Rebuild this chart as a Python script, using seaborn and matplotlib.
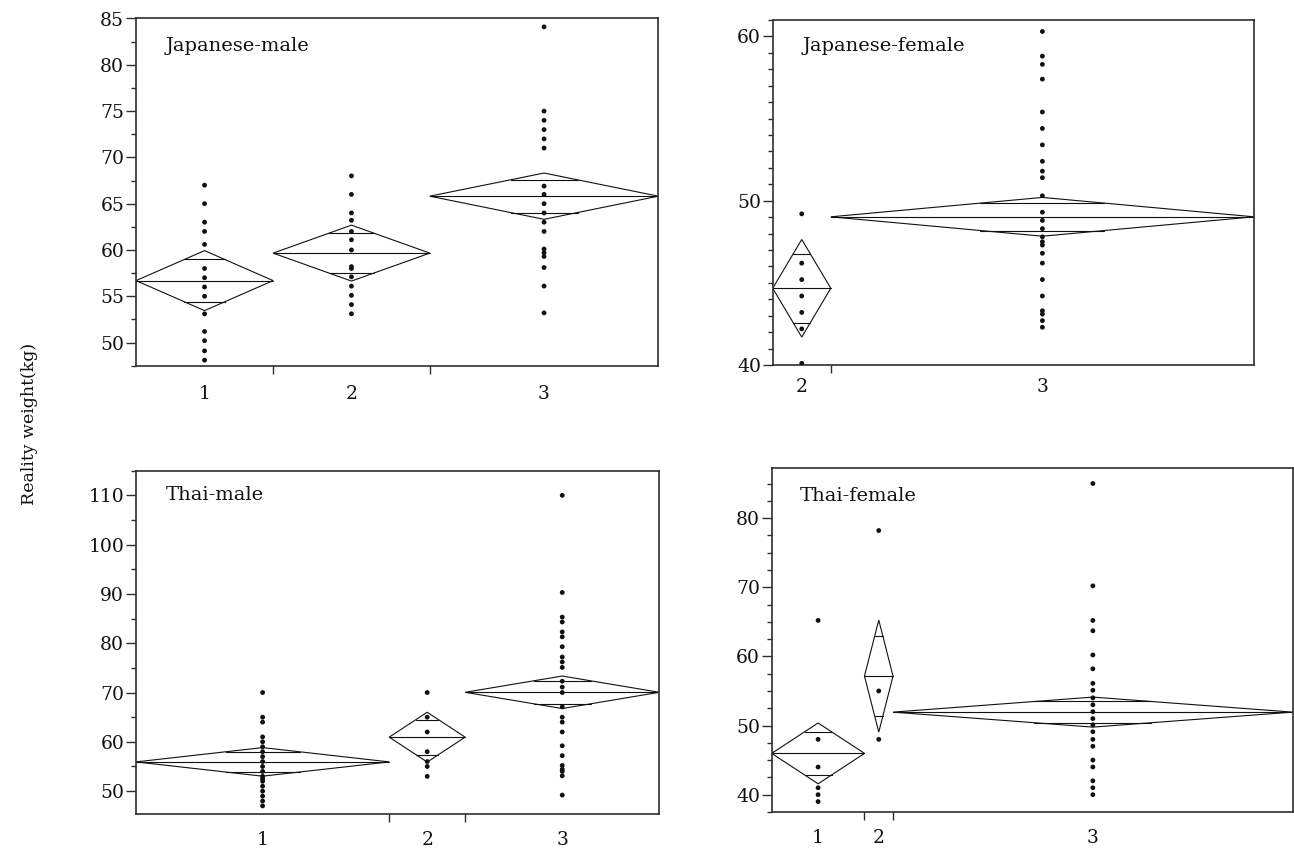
import numpy as np
import pandas as pd
import matplotlib
matplotlib.use("Agg")
import matplotlib.pyplot as plt
from matplotlib.patches import Polygon
from matplotlib.transforms import offset_copy
import seaborn as sns

# ---------------- data ----------------
# Japanese-male
jm_groups = ["1", "2", "3"]
jm_counts = [21, 24, 35]
jm_means = [56.69, 59.66, 65.81]
jm_ci = [3.24, 3.02, 2.50]
jm_g1 = [67, 65, 63, 62, 60.6, 58, 57, 56, 55, 53.1, 51.2, 50.2, 49.1, 48.1]
jm_g2 = [68, 66, 64, 63.2, 62, 61.1, 60, 58.2, 58, 57.1, 56.1, 55.1, 54.1, 53.1]
jm_g3 = [84.1, 75, 74, 73, 72, 71, 66.9, 66, 65, 64, 63, 62, 60.1, 59.7, 59.3,
         58.1, 56.1, 53.2]

# Japanese-female
jf_groups = ["2", "3"]
jf_counts = [7, 51]
jf_means = [44.67, 49.02]
jf_ci = [2.97, 1.18]
jf_g1 = [49.2, 46.2, 45.2, 44.2, 43.2, 42.2, 40.1]
jf_g2 = [60.3, 58.8, 58.3, 57.4, 55.4, 54.4, 53.4, 52.4, 51.8, 51.4, 50.3, 49.3,
         48.8, 48.3, 47.8, 47.5, 47.3, 46.8, 46.2, 45.2, 44.2, 43.3, 43.1, 42.7, 42.3]

# Thai-male
tm_groups = ["1", "2", "3"]
tm_counts = [30, 9, 23]
tm_means = [55.93, 60.95, 70.05]
tm_ci = [2.90, 5.05, 3.30]
tm_g1 = [70, 65, 64, 61, 60, 59, 58, 57, 56, 55, 54, 53, 52.5, 52, 51, 50, 49, 48, 47]
tm_g2 = [70, 65, 62, 58, 56, 55, 53]
tm_g3 = [110, 90.3, 85.3, 84.3, 82.3, 81.3, 79.3, 77.2, 76.2, 75.1, 72.3, 71.1, 70,
         67.1, 65, 64, 62, 59.2, 57.2, 55.2, 54.4, 54, 53.1, 49.2]

# Thai-female
tf_groups = ["1", "2", "3"]
tf_counts = [13, 4, 56]
tf_means = [45.97, 57.15, 51.94]
tf_ci = [4.40, 8.10, 2.17]
tf_g1 = [65.2, 48, 44, 41, 40, 39]
tf_g2 = [78.2, 55, 48]
tf_g3 = [85, 70.2, 65.2, 63.7, 60.2, 58.2, 56.1, 55.1, 54, 53, 52, 51, 50.1, 49.1,
         48, 47, 45, 44, 42, 41, 40]

y_label = "Reality weight(kg)"

# ---------------- style ----------------
sns.set_style("ticks")
plt.rcParams["font.family"] = ["DejaVu Serif"]
plt.rcParams["font.size"] = 13.5
plt.rcParams["text.color"] = "#111111"
plt.rcParams["xtick.labelcolor"] = "#111111"
plt.rcParams["ytick.labelcolor"] = "#111111"

W, H = 1294, 848
fig = plt.figure(figsize=(W / 100, H / 100), dpi=100)


def box(l, r, t, b):
    return [l / W, 1 - b / H, (r - l) / W, (b - t) / H]


SPINE = "#2e2e2e"


def draw_panel(rect, title, groups, counts, means, ci, points, ylim, major, minor,
               xpad, label_off):
    ax = fig.add_axes(rect)
    edges = np.concatenate([[0], np.cumsum(counts)])
    centers = (edges[:-1] + edges[1:]) / 2
    rows = []
    for c, pts in zip(centers, points):
        for v in pts:
            rows.append({"x": c, "w": v})
    df = pd.DataFrame(rows)
    sns.scatterplot(data=df, x="x", y="w", ax=ax, color="#111111", s=12,
                    edgecolor="none", legend=False, zorder=3)
    frac = 1 - 1 / np.sqrt(2)
    for i in range(len(counts)):
        x0, x1, xc = edges[i], edges[i + 1], centers[i]
        m, h = means[i], ci[i]
        ax.add_patch(Polygon([(x0, m), (xc, m + h), (x1, m), (xc, m - h)],
                             closed=True, fill=False, edgecolor="#111111",
                             lw=0.8, zorder=2))
        ax.plot([x0, x1], [m, m], color="#111111", lw=0.8, zorder=2)
        d = h / np.sqrt(2)
        hw = (x1 - x0) / 2 * frac
        for yy in (m + d, m - d):
            ax.plot([xc - hw, xc + hw], [yy, yy], color="#111111", lw=0.8, zorder=2)
    ax.set_xlim(0, edges[-1])
    ax.set_ylim(*ylim)
    ax.set_xlabel("")
    ax.set_ylabel("")
    ax.set_xticks(edges[1:-1])
    ax.set_xticklabels([""] * (len(edges) - 2))
    ax.set_xticks(centers, minor=True)
    ax.set_xticklabels(groups, minor=True)
    ax.tick_params(axis="x", which="major", length=6, width=1.0, color=SPINE,
                   direction="out")
    ax.tick_params(axis="x", which="minor", length=0, pad=xpad)
    ax.set_yticks(major)
    ax.set_yticks(minor, minor=True)
    ax.tick_params(axis="y", which="major", length=7, width=1.0, color=SPINE,
                   pad=1.5, direction="out")
    ax.tick_params(axis="y", which="minor", length=3.6, width=1.0, color=SPINE,
                   direction="out")
    for s in ax.spines.values():
        s.set_visible(True)
        s.set_color(SPINE)
        s.set_linewidth(1.2)
    tr = offset_copy(ax.transAxes, fig=fig, x=label_off[0], y=-label_off[1],
                     units="dots")
    ax.text(0, 1, title, transform=tr, ha="left", va="center", fontsize=14)
    return ax


draw_panel(box(136, 658.3, 18.5, 365.7), "Japanese-male", jm_groups, jm_counts,
           jm_means, jm_ci, [jm_g1, jm_g2, jm_g3], (47.5, 85.0),
           np.arange(50, 86, 5), np.arange(47.5, 85.1, 2.5), 14, (30, 28))

draw_panel(box(772.7, 1254, 20, 365), "Japanese-female", jf_groups, jf_counts,
           jf_means, jf_ci, [jf_g1, jf_g2], (40.0, 61.0),
           [40, 50, 60], np.arange(40, 61.1, 1), 9, (30, 26))

draw_panel(box(136, 659.3, 470.7, 814.3), "Thai-male", tm_groups, tm_counts,
           tm_means, tm_ci, [tm_g1, tm_g2, tm_g3], (45.3, 115.0),
           np.arange(50, 111, 10), np.arange(50, 115.1, 5), 12, (30, 24))

draw_panel(box(771.7, 1292.7, 468.3, 812.3), "Thai-female", tf_groups, tf_counts,
           tf_means, tf_ci, [tf_g1, tf_g2, tf_g3], (37.45, 87.2),
           np.arange(40, 81, 10), np.arange(37.5, 87.3, 2.5), 12, (28, 28))

fig.text(30 / W, 1 - 424 / H, y_label, rotation=90, ha="center", va="center",
         fontsize=12.5)

fig.savefig("out.png", dpi=100, facecolor="white")
